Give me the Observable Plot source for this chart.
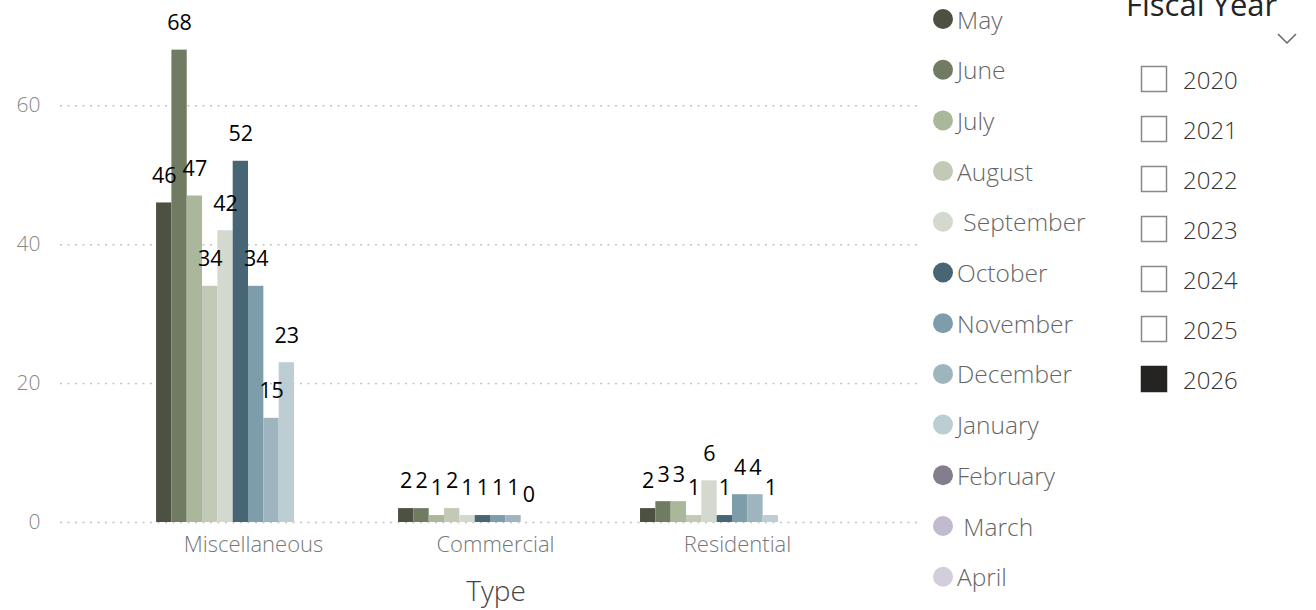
<!DOCTYPE html>
<html><head><meta charset="utf-8">
<script src="https://cdn.jsdelivr.net/npm/d3@7"></script>
<script src="https://cdn.jsdelivr.net/npm/@observablehq/plot@0.6"></script>
<style>
body{margin:0;background:#fff;}
#root{position:relative;width:1316px;height:610px;overflow:hidden;background:#fff;}
#grid,#chart,#overlay{position:absolute;left:0;top:0;}
</style></head>
<body><div id="root"><div id="grid"></div><div id="chart"></div><svg id="overlay" width="1316" height="610"></svg></div>
<script>
const FONT = '"Segoe UI","Open Sans",sans-serif';
const types = ["Miscellaneous", "Commercial", "Residential"];
const months = ["May","June","July","August","September","October","November","December","January","February","March","April"];
const legendLabels = ["May","June","July","August"," September","October","November","December","January","February"," March","April"];
const colors = ["#4c5142","#707b62","#abb79b","#c2c9b6","#d3d9ce","#476574","#7d9dab","#9eb5bf","#bccdd4","#857d8c","#c2bace","#d4cddb"];
const miscellaneous = [46,68,47,34,42,52,34,15,23,null,null,null];
const commercial = [2,2,1,2,1,1,1,1,0,null,null,null];
const residential = [2,3,3,1,6,1,4,4,1,null,null,null];
const yTicks = [0,20,40,60];
const fiscalYears = ["2020","2021","2022","2023","2024","2025","2026"];
const selectedYear = "2026";

const series = [miscellaneous, commercial, residential];
const data = [];
types.forEach((t, i) => months.forEach((m, j) => {
  const v = series[i][j];
  if (v !== null) data.push({type: t, month: m, value: v});
}));

const common = {
  width: 920, height: 610,
  marginLeft: 60, marginRight: 0, marginTop: 1, marginBottom: 88,
  style: {fontFamily: FONT, background: "transparent"}
};

// background: dotted grid and y axis
const grid = Plot.plot({
  ...common,
  y: {domain: [0, 75], axis: null},
  marks: [
    Plot.ruleY(yTicks, {stroke: "#c4c4c4", strokeWidth: 1.5, strokeDasharray: "2 5.5"}),
    Plot.axisY(yTicks, {tickSize: 0, tickPadding: 20, fontSize: 21, fill: "#888", fontWeight: 300, label: null})
  ]
});
document.getElementById("grid").appendChild(grid);

// foreground: clustered bars by type
const plot = Plot.plot({
  ...common,
  fx: {domain: types, paddingInner: 0.24, paddingOuter: 0.397, round: false, label: null},
  x: {domain: months, padding: 0, round: false, axis: null},
  y: {domain: [0, 75], axis: null},
  color: {domain: months, range: colors},
  marks: [
    Plot.barY(data, {fx: "type", x: "month", y: "value", fill: "month"}),
    Plot.text(data, {fx: "type", x: "month", y: "value", text: d => String(d.value), dy: -27, fontSize: 21.5, fill: "#000"}),
    Plot.axisFx({anchor: "bottom", tickSize: 0, tickPadding: 14, fontSize: 22, fill: "#777", fontWeight: 300, label: null, dx: 5})
  ]
});
document.getElementById("chart").appendChild(plot);

const svg = d3.select("#overlay").style("font-family", FONT);
svg.append("text").attr("x", 496).attr("y", 590).attr("text-anchor", "middle").attr("dominant-baseline", "central")
  .attr("font-size", 28).attr("font-weight", 300).attr("fill", "#444").text("Type");
legendLabels.forEach((lab, i) => {
  const cy = 19 + i * 50.7;
  svg.append("circle").attr("cx", 943).attr("cy", cy).attr("r", 10).attr("fill", colors[i]);
  svg.append("text").attr("x", 957).attr("y", cy).attr("dominant-baseline", "central")
    .attr("font-size", 24.5).attr("font-weight", 300).attr("fill", "#666")
    .style("white-space", "pre").text(lab);
});
svg.append("text").attr("x", 1126).attr("y", 16).attr("font-size", 31).attr("fill", "#252423").text("Fiscal Year");
svg.append("polyline").attr("points", "1278,34 1287,43 1296,34").attr("fill", "none").attr("stroke", "#666").attr("stroke-width", 1.5);
fiscalYears.forEach((y, i) => {
  const cy = 79 + i * 50;
  const sel = y === selectedYear;
  svg.append("rect").attr("x", 1141.5).attr("y", cy - 12.5).attr("width", 25).attr("height", 25)
    .attr("fill", sel ? "#252423" : "#fff").attr("stroke", sel ? "#252423" : "#888").attr("stroke-width", 1.5);
  svg.append("text").attr("x", 1183).attr("y", cy).attr("dominant-baseline", "central")
    .attr("font-size", 24).attr("font-weight", 300).attr("fill", "#333").text(y);
});
</script>
</body></html>
